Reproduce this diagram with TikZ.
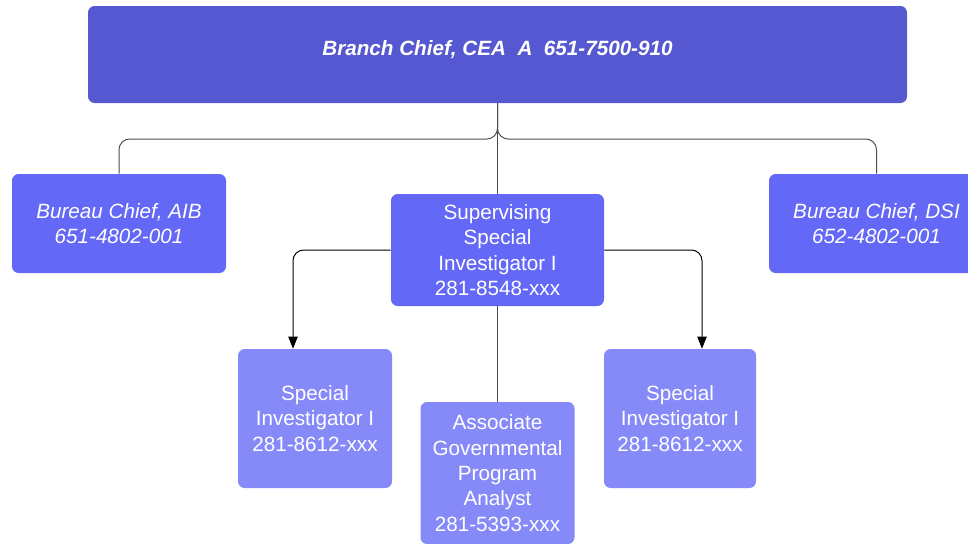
\documentclass[tikz,border=0pt]{standalone}
\usepackage{fontspec}
\setmainfont{Liberation Sans}
\usetikzlibrary{arrows.meta}
\definecolor{chiefblue}{RGB}{85,88,208}
\definecolor{midblue}{RGB}{100,104,246}
\definecolor{lightblue}{RGB}{134,138,248}
\tikzset{
  box/.style={rectangle,rounded corners=5,draw=none,text=white,align=center,inner sep=0pt,
    font=\fontsize{15.5}{19}\selectfont},
  link/.style={draw=black!70,line width=0.75pt,rounded corners=8},
  arr/.style={draw=black,line width=0.75pt,rounded corners=8,-{Triangle[length=9pt,width=7pt]}}
}
\begin{document}
\begin{tikzpicture}[x=0.75pt,y=0.75pt,yscale=-1,xscale=1]
\useasboundingbox (0,0) rectangle (968,543);
\node [box,fill=chiefblue,minimum width=819*0.75pt,minimum height=97*0.75pt] (chief) at (497.5,54.5) {};
\node [text=white,font=\fontsize{15.5}{19}\selectfont\bfseries\itshape] (chieftxt) at (497.5,50) {Branch Chief, CEA\ \ A\ \ 651-7500-910};
\node [box,fill=midblue,minimum width=214*0.75pt,minimum height=99*0.75pt] (aib) at (119,223.5) {\itshape Bureau Chief, AIB\\\itshape 651-4802-001};
\node [box,fill=midblue,minimum width=213*0.75pt,minimum height=112*0.75pt] (ssi) at (497.5,250) {Supervising\\Special\\Investigator I\\281-8548-xxx};
\node [box,fill=midblue,minimum width=215*0.75pt,minimum height=99*0.75pt] (dsi) at (876.5,223.5) {\itshape Bureau Chief, DSI\\\itshape 652-4802-001};
\node [box,fill=lightblue,minimum width=154*0.75pt,minimum height=139*0.75pt] (si1) at (315,418.5) {Special\\Investigator I\\281-8612-xxx};
\node [box,fill=lightblue,minimum width=154*0.75pt,minimum height=142*0.75pt] (agpa) at (497.5,473) {Associate\\Governmental\\Program\\Analyst\\281-5393-xxx};
\node [box,fill=lightblue,minimum width=152*0.75pt,minimum height=139*0.75pt] (si2) at (680,418.5) {Special\\Investigator I\\281-8612-xxx};
\coordinate (bus) at (497.5,139);
\draw [link] (chief.south) -- (ssi.north);
\draw [link] (chief.south) |- (aib.north |- bus) -- (aib.north);
\draw [link] (chief.south) |- (dsi.north |- bus) -- (dsi.north);
\draw [link] (ssi.south) -- (agpa.north);
\draw [arr] (ssi.west) -| ([xshift=-16.5pt]si1.north);
\draw [arr] (ssi.east) -| ([xshift=16.5pt]si2.north);
\end{tikzpicture}
\end{document}
